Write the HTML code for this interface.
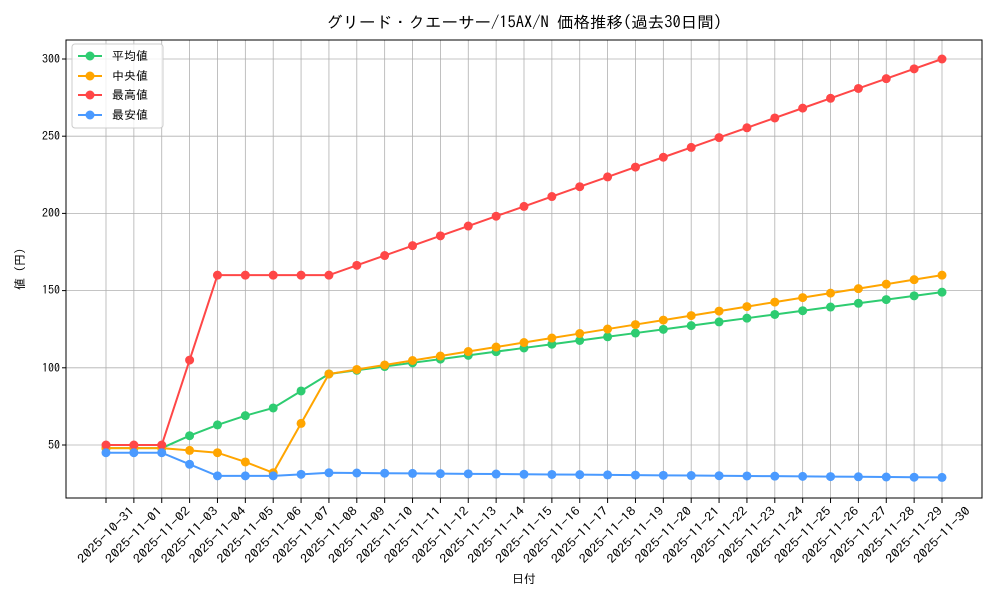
<!DOCTYPE html>
<html><head><meta charset="utf-8"><style>
body{margin:0;background:#fff;}
svg text{font-family:"IPAGothic","Noto Sans CJK JP",sans-serif;}
</style></head><body>
<svg id="s" width="1000" height="600" xmlns="http://www.w3.org/2000/svg">
<rect width="1000" height="600" fill="#fff"/>
<g id="grid"></g>
<rect x="66" y="40" width="916" height="458" fill="none" stroke="#000" stroke-width="1"/>
<text x="524" y="28" font-size="16" text-anchor="middle" textLength="396" lengthAdjust="spacingAndGlyphs">グリード・クエーサー/15AX/N 価格推移(過去30日間)</text>
<text x="524" y="583" font-size="12" text-anchor="middle">日付</text>
<text transform="translate(24,269) rotate(-90)" font-size="12" text-anchor="middle">値 (円)</text>
<g font-size="12" text-anchor="end">
<text x="60" y="449">50</text><text x="60" y="372">100</text><text x="60" y="294">150</text>
<text x="60" y="217">200</text><text x="60" y="140">250</text><text x="60" y="63">300</text>
</g>
<g id="xl" font-size="12" text-anchor="middle">
<text>2025-10-31</text><text>2025-11-01</text><text>2025-11-02</text><text>2025-11-03</text><text>2025-11-04</text><text>2025-11-05</text><text>2025-11-06</text><text>2025-11-07</text><text>2025-11-08</text><text>2025-11-09</text><text>2025-11-10</text><text>2025-11-11</text><text>2025-11-12</text><text>2025-11-13</text><text>2025-11-14</text><text>2025-11-15</text><text>2025-11-16</text><text>2025-11-17</text><text>2025-11-18</text><text>2025-11-19</text><text>2025-11-20</text><text>2025-11-21</text><text>2025-11-22</text><text>2025-11-23</text><text>2025-11-24</text><text>2025-11-25</text><text>2025-11-26</text><text>2025-11-27</text><text>2025-11-28</text><text>2025-11-29</text><text>2025-11-30</text>
</g>
<g id="series"></g>
<g>
<rect x="72" y="44" width="91" height="84" fill="#fff" fill-opacity="0.8" stroke="#ccc" rx="3"/>
<line x1="78" y1="56" x2="102" y2="56" stroke="#2ecc71" stroke-width="2"/><circle cx="90" cy="56" r="4.5" fill="#2ecc71"/>
<line x1="78" y1="76" x2="102" y2="76" stroke="#ffa500" stroke-width="2"/><circle cx="90" cy="76" r="4.5" fill="#ffa500"/>
<line x1="78" y1="95" x2="102" y2="95" stroke="#ff4747" stroke-width="2"/><circle cx="90" cy="95" r="4.5" fill="#ff4747"/>
<line x1="78" y1="115" x2="102" y2="115" stroke="#4a9aff" stroke-width="2"/><circle cx="90" cy="115" r="4.5" fill="#4a9aff"/>
<g font-size="12"><text x="112" y="60">平均値</text><text x="112" y="80">中央値</text><text x="112" y="99">最高値</text><text x="112" y="119">最安値</text></g>
</g>
</svg>
<script>
function X(i){return 106+i*836/30;}
function Y(v){return 445-(v-50)*1.544;}
var g=document.getElementById("grid"),h="";
for(var i=0;i<31;i++){h+='<line x1="'+X(i)+'" y1="40" x2="'+X(i)+'" y2="498" stroke="#b0b0b0" stroke-width="0.8"/><line x1="'+X(i)+'" y1="498" x2="'+X(i)+'" y2="503" stroke="#000"/>';}
[50,100,150,200,250,300].forEach(function(v){h+='<line x1="66" y1="'+Y(v)+'" x2="982" y2="'+Y(v)+'" stroke="#b0b0b0" stroke-width="0.8"/><line x1="62" y1="'+Y(v)+'" x2="66" y2="'+Y(v)+'" stroke="#000"/>';});
g.innerHTML=h;
var t=document.getElementById("xl").children;
for(var i=0;i<t.length;i++){t[i].setAttribute("transform","translate("+X(i)+",535) rotate(-45)");t[i].setAttribute("y","4");t[i].setAttribute("textLength","74");t[i].setAttribute("lengthAdjust","spacingAndGlyphs");}
function mk(a,fn){var r=a.slice();for(var i=r.length;i<31;i++)r.push(fn(i));return r;}
var avg=mk([48,48,48,56,63,69,74,85,96],function(i){return 96+(i-8)*53/22;});
var med=mk([48,48,48,46.5,45,39,32,64,96],function(i){return 96+(i-8)*64/22;});
var mx=mk([50,50,50,105,160,160,160,160,160],function(i){return 160+(i-8)*140/22;});
var mn=mk([45,45,45,37.5,30,30,30,31,32],function(i){return 32-(i-8)*3/22;});
var s="";
[[avg,"#2ecc71"],[med,"#ffa500"],[mx,"#ff4747"],[mn,"#4a9aff"]].forEach(function(p){
 var pts=p[0].map(function(v,i){return X(i)+","+Y(v);}).join(" ");
 s+='<polyline points="'+pts+'" fill="none" stroke="'+p[1]+'" stroke-width="2"/>';
 p[0].forEach(function(v,i){s+='<circle cx="'+X(i)+'" cy="'+Y(v)+'" r="4.5" fill="'+p[1]+'"/>';});
});
document.getElementById("series").innerHTML=s;
</script>
</body></html>
